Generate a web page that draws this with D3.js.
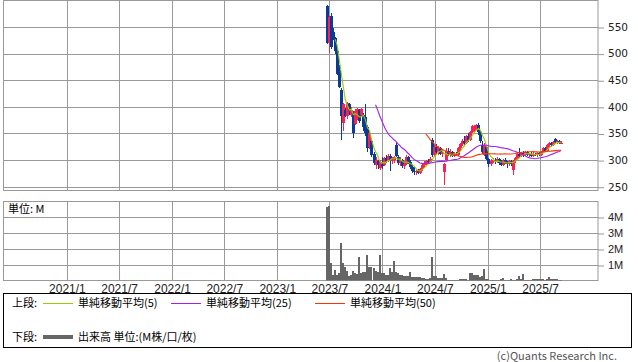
<!DOCTYPE html>
<html>
<head>
<meta charset="utf-8">
<script src="https://cdn.jsdelivr.net/npm/d3@7"></script>
<style>
  body { margin: 0; background: #fff; }
  svg { display: block; font-family: "Noto Sans CJK JP", "DejaVu Sans", sans-serif; }
  .axis .domain { display: none; }
</style>
</head>
<body>
<svg id="chart" width="638" height="362"></svg>
<script>
// weekly bars, first week ending 2023/6/23
const firstWeek = new Date(2023, 5, 23);

const opens = [590,520,570,540,530,505,470,432,370,395,382,405,385,390,368,378,394,385,385,380,
  362,325,335,312,290,298,286,292,290,303,298,308,298,300,328,305,294,300,288,292,
  305,296,287,280,278,280,276,284,290,294,298,296,338,310,325,315,322,312,278,300,
  318,310,316,308,312,310,322,330,336,332,345,338,352,355,362,366,352,328,310,325,
  302,292,298,300,296,302,294,290,300,296,292,298,282,298,304,312,308,314,310,316,
  310,312,308,312,309,313,310,316,322,318,328,332,328,340,334,336,332];
const highs = [592,570,576,548,532,510,478,435,408,398,410,408,400,392,396,398,396,398,388,406,
  365,357,338,315,305,300,300,306,306,310,312,312,306,308,334,310,305,302,298,310,
  308,300,290,288,282,283,286,292,298,300,302,305,342,328,330,326,325,318,295,322,
  322,320,318,316,315,325,332,340,345,348,350,355,366,366,368,369,354,335,332,326,
  304,302,303,304,305,304,300,302,303,298,300,300,300,306,316,322,316,318,318,318,
  314,316,315,314,316,315,318,324,324,330,334,334,336,341,338,338,336];
const lows = [518,502,508,525,500,459,435,338,355,380,378,385,380,342,365,375,370,382,355,345,
  316,320,306,290,283,284,282,283,288,295,296,280,292,294,305,290,288,285,284,290,
  292,283,275,272,272,273,274,280,286,290,292,294,305,306,312,310,310,305,253,298,
  308,306,306,305,308,308,318,326,328,330,334,336,350,352,356,348,332,312,308,300,
  287,289,294,292,294,290,288,288,292,286,288,288,272,295,302,306,305,306,308,308,
  305,306,306,307,306,308,308,314,315,316,322,325,326,332,330,330,330];
const closes = [520,568,513,530,505,462,438,382,405,382,408,392,395,350,392,396,373,396,363,350,
  322,350,310,295,300,290,297,288,303,298,308,300,303,305,307,294,300,288,292,305,
  296,287,280,278,280,276,284,290,294,298,296,302,310,325,315,322,312,316,292,318,
  310,316,308,312,310,322,330,336,332,345,338,352,364,362,366,352,335,316,328,302,
  292,298,300,296,302,294,290,300,296,292,298,292,298,304,312,308,314,310,316,310,
  312,308,312,309,313,310,316,322,318,328,332,328,334,334,336,332,333];
// volume in millions of shares
const volumes = [4.65,4.70,1.10,0.37,0.69,0.37,0.50,2.40,1.10,0.90,0.60,0.30,0.40,0.65,0.50,0.45,1.50,0.50,0.55,0.55,
  1.60,0.90,0.85,0.80,0.60,0.55,1.60,0.50,0.50,0.35,0.35,0.80,0.55,1.25,0.55,0.50,0.35,0.35,0.30,0.30,
  0.30,0.55,0.25,0.25,0.25,0.25,0.22,0.20,0.18,0.15,0.15,0.20,1.50,0.30,0.30,0.20,0.20,0.20,0.45,0.20,
  0.08,0.06,0.05,0.05,0.05,0.08,0.15,0.15,0.12,0.15,0.06,0.52,0.50,0.37,0.37,0.37,0.25,0.30,0.73,0.15,
  0.15,0.06,0.05,0.05,0.05,0.06,0.15,0.20,0.06,0.05,0.08,0.15,0.08,0.08,0.15,0.30,0.15,0.45,0.05,0.05,
  0.05,0.08,0.10,0.10,0.10,0.10,0.10,0.10,0.08,0.10,0.22,0.10,0.10,0.10,0.10,0.08,0.05];

const monthTicks = ["2021/1","2021/7","2022/1","2022/7","2023/1","2023/7","2024/1","2024/7","2025/1","2025/7"];
const priceTicks = [250,300,350,400,450,500,550];
const volTicks = [1,2,3,4];
const maPeriods = [5,25,50];
const maNames = ["単純移動平均(5)","単純移動平均(25)","単純移動平均(50)"];

const maColors = ["#99cc00","#a020f0","#ff3300"];
const upColor = "#ff1f4f", downColor = "#0b3a98";
const gridColor = "#999";

const svg = d3.select("#chart");

const weeks = closes.map((c, i) => d3.timeFriday.offset(firstWeek, i));
const monthDates = monthTicks.map(s => { const [y, m] = s.split("/"); return new Date(+y, +m - 1, 1); });

const left = 3.5, right = 598;
const x = d3.scaleTime()
  .domain([new Date(2020, 4, 26), new Date(2026, 0, 18)])
  .range([left, right]);
const y = d3.scaleLinear().domain([250, 550]).range([186.7, 27]);
const yv = d3.scaleLinear().domain([0, 5]).range([281, 201]);

const px = v => Math.round(v) + 0.5;

// panels
function panel(top, bottom, yScale, ticks, fmt, clipId) {
  const g = svg.append("g");
  g.selectAll(".vg").data(monthDates).enter().append("line")
    .attr("x1", d => px(x(d))).attr("x2", d => px(x(d)))
    .attr("y1", top).attr("y2", bottom)
    .attr("stroke", gridColor);
  g.selectAll(".hg").data(ticks).enter().append("line")
    .attr("x1", left).attr("x2", right)
    .attr("y1", d => px(yScale(d))).attr("y2", d => px(yScale(d)))
    .attr("stroke", gridColor);
  g.append("rect")
    .attr("x", left).attr("y", top).attr("width", right - left).attr("height", bottom - top)
    .attr("fill", "none").attr("stroke", gridColor);

  const ax = svg.append("g").attr("class", "axis")
    .attr("transform", `translate(${right},0)`)
    .call(d3.axisRight(yScale).tickValues(ticks).tickSize(6).tickPadding(4).tickFormat(fmt));
  ax.selectAll("line").attr("stroke", gridColor).attr("transform", "translate(0,0.5)");
  ax.selectAll("text").attr("fill", "#222").style("font-family", "DejaVu Sans").style("font-size", "10.5px");

  svg.append("clipPath").attr("id", clipId).append("rect")
    .attr("x", left).attr("y", top).attr("width", right - left).attr("height", bottom - top);
  return ax;
}

panel(0.5, 190.5, y, priceTicks, d => d, "clipP");
const vax = panel(201.5, 280.5, yv, volTicks, d => d + "M", "clipV");
vax.selectAll("text").style("font-family", "Liberation Sans").style("font-size", "11px");

// candles
const cg = svg.append("g").attr("clip-path", "url(#clipP)").attr("shape-rendering", "crispEdges");
const candles = closes.map((c, i) => ({ date: weeks[i], o: opens[i], h: highs[i], l: lows[i], c }));
cg.selectAll(".wick").data(candles).enter().append("line")
  .attr("x1", d => px(x(d.date))).attr("x2", d => px(x(d.date)))
  .attr("y1", d => y(d.h)).attr("y2", d => y(d.l))
  .attr("stroke", d => d.c >= d.o ? upColor : downColor);
cg.selectAll(".body").data(candles).enter().append("rect")
  .attr("x", d => Math.round(x(d.date)) - 1)
  .attr("width", 3)
  .attr("y", d => y(Math.max(d.o, d.c)))
  .attr("height", d => Math.max(1, Math.abs(y(d.o) - y(d.c))))
  .attr("fill", d => d.c >= d.o ? upColor : downColor);

// moving averages
maPeriods.forEach((n, k) => {
  const pts = [];
  closes.forEach((c, i) => {
    if (i >= n - 1) pts.push([weeks[i], d3.mean(closes.slice(i - n + 1, i + 1))]);
  });
  svg.append("path").datum(pts)
    .attr("clip-path", "url(#clipP)")
    .attr("fill", "none").attr("stroke", maColors[k]).attr("stroke-width", 1.1)
    .attr("d", d3.line().x(d => x(d[0])).y(d => y(d[1])));
});

// volume
svg.append("g").attr("clip-path", "url(#clipV)").attr("shape-rendering", "crispEdges")
  .selectAll("rect").data(volumes).enter().append("rect")
  .attr("x", (d, i) => Math.round(x(weeks[i])) - 1)
  .attr("width", 2)
  .attr("y", d => yv(d))
  .attr("height", d => yv(0) - yv(d))
  .attr("fill", "#666");

svg.append("text").attr("x", 8).attr("y", 213).style("font-size", "11px").text("単位: M");

// x axis labels
const xa = svg.append("g").attr("class", "axis")
  .attr("transform", "translate(0,280)")
  .call(d3.axisBottom(x).tickValues(monthDates).tickSize(0).tickPadding(4)
    .tickFormat((d, i) => monthTicks[i]));
xa.selectAll("text").attr("fill", "#222").style("font-family", "Liberation Sans").style("font-size", "12px");

// legend
const lg = svg.append("g");
lg.append("rect").attr("x", 3.5).attr("y", 293.5).attr("width", 628).attr("height", 54)
  .attr("fill", "none").attr("stroke", "#000");
lg.append("text").attr("x", 12).attr("y", 307).style("font-size", "11px").text("上段:");
const legX = [43, 171, 315];
maNames.forEach((name, k) => {
  lg.append("line").attr("x1", legX[k]).attr("x2", legX[k] + 30)
    .attr("y1", 303.5).attr("y2", 303.5).attr("stroke", maColors[k]);
  lg.append("text").attr("x", legX[k] + 35).attr("y", 307).style("font-size", "11px").text(name);
});
lg.append("text").attr("x", 12).attr("y", 341).style("font-size", "11px").text("下段:");
lg.append("line").attr("x1", 43).attr("x2", 73).attr("y1", 337).attr("y2", 337)
  .attr("stroke", "#666").attr("stroke-width", 4);
lg.append("text").attr("x", 78).attr("y", 341).style("font-size", "11px").text("出来高 単位:(M株/口/枚)");

svg.append("text").attr("x", 617).attr("y", 360).attr("text-anchor", "end")
  .attr("fill", "#555").style("font-size", "11px").text("(c)Quants Research Inc.");
</script>
</body>
</html>
